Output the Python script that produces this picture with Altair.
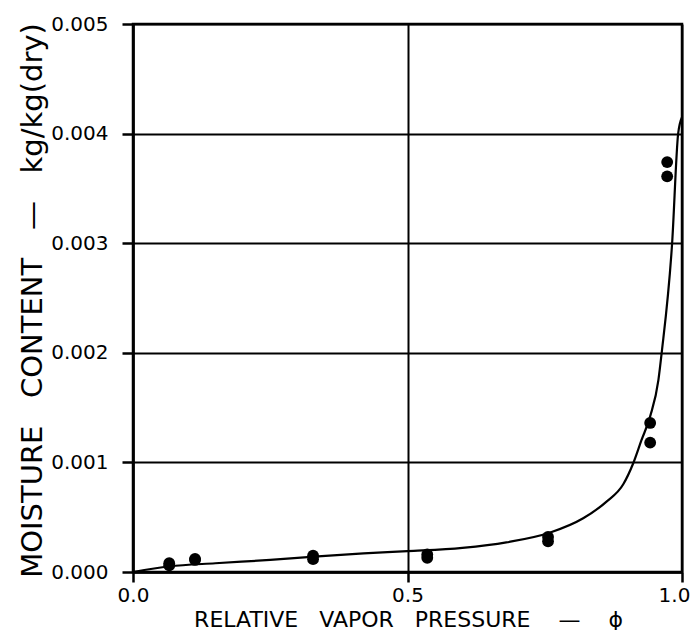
import altair as alt
import pandas as pd

# Measured data points (relative vapor pressure, moisture content)
pt_x = [0.066, 0.066, 0.113, 0.113, 0.328, 0.328, 0.536, 0.536,
        0.756, 0.756, 0.942, 0.942, 0.973, 0.973]
pt_y = [0.00006, 0.00008, 0.00011, 0.00012, 0.000117, 0.00015, 0.00013, 0.00016,
        0.00028, 0.00032, 0.00118, 0.00136, 0.00361, 0.00374]

# Fitted curve
curve_x = [0.0, 0.066, 0.15, 0.25, 0.33, 0.42, 0.5, 0.6, 0.68, 0.76, 0.82,
           0.862, 0.893, 0.911, 0.926, 0.942, 0.957, 0.963, 0.982, 0.993, 1.0]
curve_y = [0.0, 0.00005, 0.00008, 0.00011, 0.00014, 0.00017, 0.00019, 0.00022,
           0.00027, 0.00036, 0.00049, 0.00064, 0.0008, 0.00099, 0.0012, 0.00142,
           0.00175, 0.002, 0.003, 0.004, 0.00415]

x_ticks = [0.0, 0.5, 1.0]
y_ticks = [0.0, 0.001, 0.002, 0.003, 0.004, 0.005]

x_title = "RELATIVE\u00a0\u00a0\u00a0VAPOR\u00a0\u00a0\u00a0PRESSURE\u00a0\u00a0\u00a0\u00a0\u2014\u00a0\u00a0\u00a0\u00a0\u03d5"
y_title = "MOISTURE\u00a0\u00a0\u00a0CONTENT\u00a0\u00a0\u00a0\u2014\u00a0\u00a0\u00a0kg/kg(dry)"

pts = pd.DataFrame({"x": pt_x, "y": pt_y})
crv = pd.DataFrame({"x": curve_x, "y": curve_y})

FONT = "DejaVu Sans"

xaxis = alt.Axis(values=x_ticks, format=".1f", grid=True, gridColor="black",
                 gridWidth=2, gridOpacity=1, domainColor="black", domainWidth=2.5,
                 tickColor="black", tickWidth=2.5, tickSize=10,
                 labelFont=FONT, labelFontSize=20, labelColor="black",
                 labelPadding=3, labelFlush=False,
                 labelOffset={"condition": {"test": "datum.value >= 1", "value": -8}, "value": 0},
                 title=x_title, titleFont=FONT, titleFontSize=22,
                 titleFontWeight="normal", titleColor="black",
                 titleX=275, titleY=54, titleBaseline="alphabetic",
                 titleAlign="center", titleAngle=0)

yaxis = alt.Axis(values=y_ticks, format=".3f", grid=True, gridColor="black",
                 gridWidth=2, gridOpacity=1, domainColor="black", domainWidth=2.5,
                 tickColor="black", tickWidth=2.5, tickSize=11,
                 labelFont=FONT, labelFontSize=20, labelColor="black",
                 labelPadding=14, labelFlush=False,
                 title=y_title, titleFont=FONT, titleFontSize=29,
                 titleFontWeight="normal", titleColor="black",
                 titleX=-101, titleY=276, titleBaseline="middle",
                 titleAlign="center", titleAngle=270)

xs = alt.Scale(domain=[0, 1], nice=False, zero=False)
ys = alt.Scale(domain=[0, 0.005], nice=False, zero=False)

line = alt.Chart(crv).mark_line(color="black", strokeWidth=2.2,
                                interpolate="monotone").encode(
    x=alt.X("x:Q", scale=xs, axis=xaxis),
    y=alt.Y("y:Q", scale=ys, axis=yaxis),
    order="x:Q",
)

points = alt.Chart(pts).mark_circle(color="black", size=140, opacity=1).encode(
    x=alt.X("x:Q", scale=xs),
    y=alt.Y("y:Q", scale=ys),
)

chart = alt.layer(line, points).properties(
    width=549, height=548,
    autosize=alt.AutoSizeParams(type="none"),
    padding={"left": 125, "top": 16, "right": 8, "bottom": 58},
    background="white",
).configure_view(stroke="black", strokeWidth=2.5)

chart.save("out.html", embed_options={"renderer": "svg", "actions": False})
